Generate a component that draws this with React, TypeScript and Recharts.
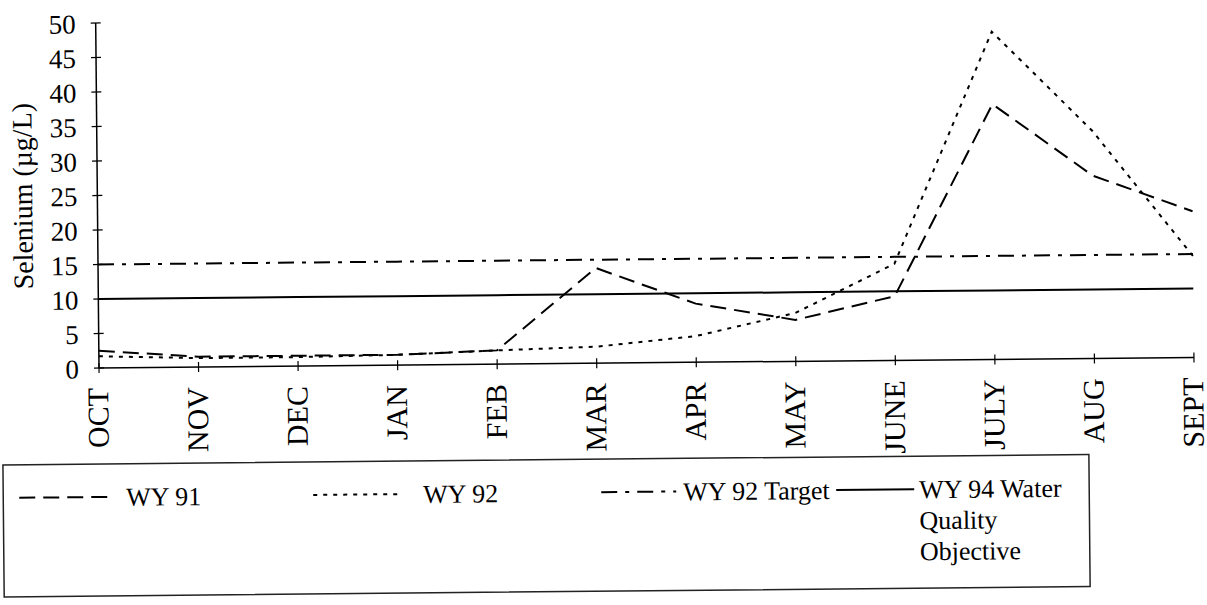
import React from 'react';
import { LineChart, Line, XAxis, YAxis, Customized } from 'recharts';

// ---------- data ----------
const months = ['OCT', 'NOV', 'DEC', 'JAN', 'FEB', 'MAR', 'APR', 'MAY', 'JUNE', 'JULY', 'AUG', 'SEPT'];
const wy91 = [2.5, 1.5, 1.5, 1.5, 2.0, 13.8, 8.5, 6.0, 9.3, 37.0, 26.5, 21.2];
const wy92 = [1.7, 1.3, 1.3, 1.5, 2.0, 2.4, 3.8, 7.0, 14.0, 47.5, 33.0, 14.7];
const wy92Target = [15, 15, 15, 15, 15, 15, 15, 15, 15, 15, 15, 15];
const wy94Objective = [10, 10, 10, 10, 10, 10, 10, 10, 10, 10, 10, 10];
const yTicks = [0, 5, 10, 15, 20, 25, 30, 35, 40, 45, 50];
const yLabel = 'Selenium (µg/L)';

const seriesNames = ['WY 91', 'WY 92', 'WY 92 Target', 'WY 94 Water Quality Objective'];
const legendLabelLines = [['WY 91'], ['WY 92'], ['WY 92 Target'], ['WY 94 Water', 'Quality', 'Objective']];

const data = months.map((m, i) => ({
  month: m,
  wy91: wy91[i],
  wy92: wy92[i],
  target: wy92Target[i],
  objective: wy94Objective[i],
}));

// ---------- styles / layout ----------
const FONT = '"Liberation Serif", "Times New Roman", serif';
const seriesStyle = [
  { key: 'wy91', dash: '16 8' },
  { key: 'wy92', dash: '4 6' },
  { key: 'target', dash: '16 8 4 8' },
  { key: 'objective', dash: undefined as string | undefined },
];
const legendLayout = [
  { x1: 18, x2: 110, tx: 125 },
  { x1: 312, x2: 398, tx: 422 },
  { x1: 600, x2: 675, tx: 682 },
  { x1: 835, x2: 913, tx: 918 },
];
const LEGEND_TOP = 460;

const Y_TICK_SIZE = 6;
const Y_TICK_MARGIN = 14;
const X_TICK_SIZE = 5;
const X_TICK_MARGIN = 15;

const YTick = (props: any) => {
  const { x, y, payload } = props;
  const ax = x + Y_TICK_SIZE + Y_TICK_MARGIN;
  return (
    <g>
      <line x1={ax - 5} x2={ax + 5} y1={y} y2={y} stroke="#000" strokeWidth={1.2} />
      <text x={x} y={y} dy="0.38em" textAnchor="end" style={{ fontFamily: FONT, fontSize: 27 }} fill="#000">
        {payload.value}
      </text>
    </g>
  );
};

const XTick = (props: any) => {
  const { x, y, payload } = props;
  const ay = y - X_TICK_SIZE - X_TICK_MARGIN;
  return (
    <g>
      <line x1={x} x2={x} y1={ay - 5} y2={ay + 5} stroke="#000" strokeWidth={1.2} />
      <text
        x={x}
        y={y}
        dy="0.3em"
        textAnchor="end"
        transform={`rotate(-90, ${x}, ${y})`}
        style={{ fontFamily: FONT, fontSize: 30 }}
        fill="#000"
      >
        {payload.value}
      </text>
    </g>
  );
};

const YAxisLabel = (props: any) => {
  const vb = props.viewBox || {};
  const cx = 24;
  const cy = (vb.y ?? 23) + (vb.height ?? 345) / 2;
  return (
    <text
      x={cx}
      y={cy}
      dy="0.35em"
      textAnchor="middle"
      transform={`rotate(-90, ${cx}, ${cy})`}
      style={{ fontFamily: FONT, fontSize: 28 }}
      fill="#000"
    >
      {yLabel}
    </text>
  );
};

// legend frame and line samples (SVG, inside the chart)
const LegendSamples = () => (
  <g transform={`translate(0, ${LEGEND_TOP})`}>
    <rect x={2} y={4} width={1086} height={132} fill="none" stroke="#222" strokeWidth={1.5} />
    {seriesNames.map((name, i) => {
      const L = legendLayout[i];
      const s = seriesStyle[i];
      return (
        <line
          key={name}
          x1={L.x1}
          x2={L.x2}
          y1={37}
          y2={37}
          stroke="#000"
          strokeWidth={2}
          strokeDasharray={s.dash}
        />
      );
    })}
  </g>
);

// legend labels (HTML text)
const LegendLabels = () => (
  <div style={{ position: 'absolute', left: 0, top: LEGEND_TOP, width: 1100, height: 140, pointerEvents: 'none' }}>
    {seriesNames.map((name, i) => (
      <div
        key={name}
        style={{
          position: 'absolute',
          left: legendLayout[i].tx,
          top: 22,
          fontFamily: 'Liberation Serif',
          fontSize: 26,
          lineHeight: '31px',
          color: '#000',
          whiteSpace: 'nowrap',
        }}
      >
        {legendLabelLines[i].map((t) => (
          <div key={t} style={{ fontFamily: 'Liberation Serif' }}>{t}</div>
        ))}
      </div>
    ))}
  </div>
);

export default function App() {
  return (
    <div
      style={{
        position: 'absolute',
        left: 0,
        top: 0,
        width: 1207,
        height: 605,
        background: '#fff',
        fontFamily: 'Liberation Serif',
        transform: 'rotate(-0.55deg)',
        transformOrigin: '99px 368px',
      }}
    >
      <LineChart width={1207} height={605} data={data} margin={{ top: 23, right: 13, bottom: 145, left: 0 }}>
        <XAxis
          dataKey="month"
          height={92}
          interval={0}
          tickSize={X_TICK_SIZE}
          tickMargin={X_TICK_MARGIN}
          tickLine={false}
          tick={<XTick />}
          axisLine={{ stroke: '#000', strokeWidth: 1.5 }}
        />
        <YAxis
          width={99}
          domain={[0, 50]}
          ticks={yTicks}
          interval={0}
          tickSize={Y_TICK_SIZE}
          tickMargin={Y_TICK_MARGIN}
          tickLine={false}
          tick={<YTick />}
          axisLine={{ stroke: '#000', strokeWidth: 1.5 }}
          label={<YAxisLabel />}
        />
        {seriesStyle.map((s, i) => (
          <Line
            key={s.key}
            type="linear"
            dataKey={s.key}
            name={seriesNames[i]}
            stroke="#000"
            strokeWidth={2}
            strokeDasharray={s.dash}
            dot={false}
            activeDot={false}
            isAnimationActive={false}
          />
        ))}
        <Customized component={LegendSamples} />
      </LineChart>
      <LegendLabels />
    </div>
  );
}
